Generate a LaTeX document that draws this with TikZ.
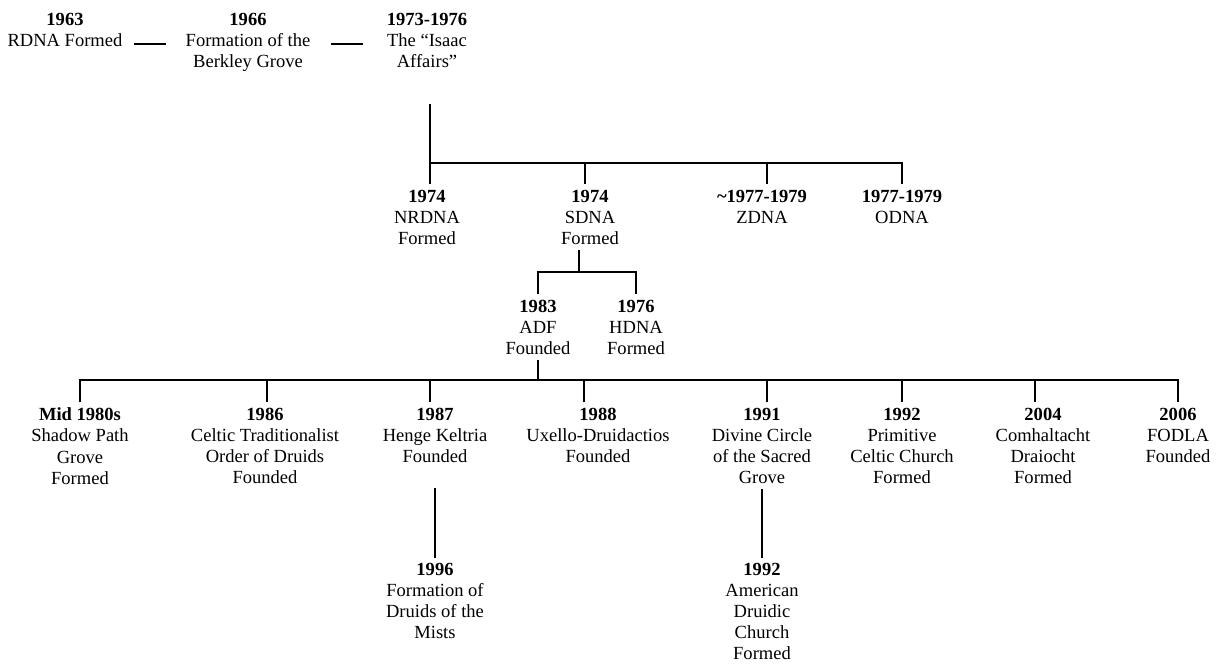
\documentclass[tikz,border=0pt]{standalone}
\usepackage{fontspec}
\setmainfont{Liberation Serif}
\usepackage{tikz}
\newcommand\evfont{\fontsize{13.9}{15.9}\selectfont}

\begin{document}
\begin{tikzpicture}[x=0.75pt,y=-0.75pt,
  evt/.style={align=center,anchor=north,inner xsep=0pt,inner ysep=3.75pt,font=\evfont},
  link/.style={line width=1.5pt}]
\useasboundingbox (0,0) rectangle (1217,666);
\node[evt] (n63) at (65,7.5) {\textbf{1963}\\RDNA Formed};
\node[evt] (n66) at (248,7.5) {\textbf{1966}\\Formation of the\\Berkley Grove};
\node[evt] (n73) at (427,7.5) {\textbf{1973-1976}\\The “Isaac\\Affairs”};
\coordinate (d1a) at (134,44);
\coordinate (d1b) at (166,44);
\coordinate (d2a) at (331,44);
\coordinate (d2b) at (363,44);
\draw[link] (d1a) -- (d1b);
\draw[link] (d2a) -- (d2b);
\node[evt] (nrdna) at (427,184.5) {\textbf{1974}\\NRDNA\\Formed};
\node[evt] (sdna) at (590,184.5) {\textbf{1974}\\SDNA\\Formed};
\node[evt] (zdna) at (762,184.5) {\textbf{\textasciitilde1977-1979}\\ZDNA};
\node[evt] (odna) at (902,184.5) {\textbf{1977-1979}\\ODNA};
\coordinate (tr) at (430,104);
\coordinate (j1) at (430,163);
\coordinate (j1s) at (585,163);
\coordinate (j1z) at (767,163);
\draw[link] (tr) -- (tr |- nrdna.north);
\draw[link] (j1) -| (odna.north);
\draw[link] (j1s) -- (j1s |- sdna.north);
\draw[link] (j1z) -- (j1z |- zdna.north);
\node[evt] (adf) at (538,294.5) {\textbf{1983}\\ADF\\Founded};
\node[evt] (hdna) at (636,294.5) {\textbf{1976}\\HDNA\\Formed};
\coordinate (j2) at (579,272);
\draw[link] (j2 |- sdna.south) -- (j2);
\draw[link] (adf.north) |- (j2) -| (hdna.north);
\node[evt] (m80) at (80,402.5) {\textbf{Mid 1980s}\\Shadow Path\\Grove\\Formed};
\node[evt] (c86) at (265,402.5) {\textbf{1986}\\Celtic Traditionalist\\Order of Druids\\Founded};
\node[evt] (h87) at (435,402.5) {\textbf{1987}\\Henge Keltria\\Founded};
\node[evt] (u88) at (598,402.5) {\textbf{1988}\\Uxello-Druidactios\\Founded};
\node[evt] (d91) at (762,402.5) {\textbf{1991}\\Divine Circle\\of the Sacred\\Grove};
\node[evt] (p92) at (902,402.5) {\textbf{1992}\\Primitive\\Celtic Church\\Formed};
\node[evt] (c04) at (1043,402.5) {\textbf{2004}\\Comhaltacht\\Draiocht\\Formed};
\node[evt] (f06) at (1178,402.5) {\textbf{2006}\\FODLA\\Founded};
\coordinate (j3) at (538,380);
\coordinate (j3a) at (267,380);
\coordinate (j3b) at (430,380);
\coordinate (j3c) at (584,380);
\coordinate (j3d) at (767,380);
\coordinate (j3e) at (902,380);
\coordinate (j3f) at (1035,380);
\draw[link] (adf.south) -- (j3);
\draw[link] (m80.north) |- (j3) -| (f06.north);
\draw[link] (j3a) -- (j3a |- c86.north);
\draw[link] (j3b) -- (j3b |- h87.north);
\draw[link] (j3c) -- (j3c |- u88.north);
\draw[link] (j3d) -- (j3d |- d91.north);
\draw[link] (j3e) -- (j3e |- p92.north);
\draw[link] (j3f) -- (j3f |- c04.north);
\node[evt] (dm96) at (435,557.5) {\textbf{1996}\\Formation of\\Druids of the\\Mists};
\node[evt] (adc) at (762,557.5) {\textbf{1992}\\American\\Druidic\\Church\\Formed};
\coordinate (k87) at (435,488);
\draw[link] (k87) -- (dm96.north);
\draw[link] (d91.south) -- (adc.north);
\end{tikzpicture}
\end{document}
